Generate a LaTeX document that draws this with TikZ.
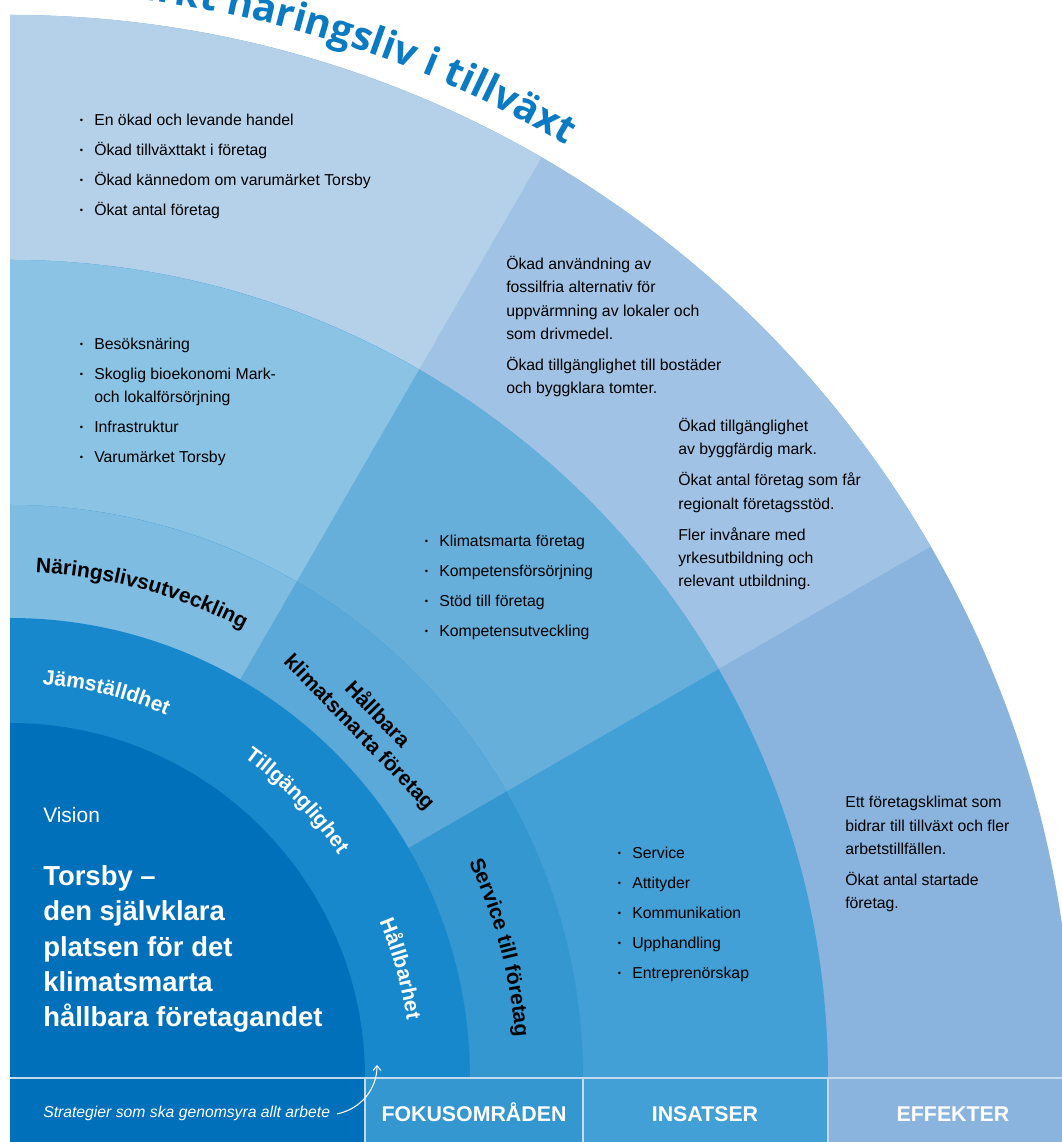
\documentclass[tikz,border=0pt]{standalone}
\usepackage{fontspec}
\setmainfont{Liberation Sans}
\newfontfamily\titlefont{Open Sans}
\usetikzlibrary{decorations.text,arrows.meta}

\definecolor{visionblue}{HTML}{0070BA}
\definecolor{stratblue}{HTML}{1888CC}
\definecolor{fokusA}{HTML}{7EBCE2}
\definecolor{fokusB}{HTML}{5BA9D9}
\definecolor{fokusC}{HTML}{3597D0}
\definecolor{insatsA}{HTML}{8AC3E3}
\definecolor{insatsB}{HTML}{67AFDB}
\definecolor{insatsC}{HTML}{43A0D6}
\definecolor{effektA}{HTML}{B5D1EA}
\definecolor{effektB}{HTML}{A0C3E5}
\definecolor{effektC}{HTML}{8AB4DE}
\definecolor{titleblue}{HTML}{0A7AC3}
\definecolor{sepcol}{HTML}{C6DAEF}

\newcommand{\itm}{\llap{\raisebox{0.25ex}{\fontsize{7}{7}\selectfont •}\hspace{8.3pt}}}
\newcommand{\labfont}{\fontsize{15.75}{18}\selectfont\bfseries}

\tikzstyle{listtxt}=[anchor=base west,align=left,inner sep=0pt,font=\fontsize{11.85}{17.6}\selectfont]
\tikzstyle{bandlabel}=[anchor=base,inner sep=0pt,text=white,font=\fontsize{16}{19}\selectfont\bfseries]
\tikzstyle{ringtext}=[decorate,decoration={text along path,text align=center}]
\tikzstyle{sepline}=[draw=sepcol,line width=1.5pt]

\begin{document}
\begin{tikzpicture}[x=0.75pt,y=0.75pt]
\useasboundingbox (-10,-64) rectangle (1052,1078);
\clip (-10,-64) rectangle (1052,1078);

\fill[effektC] (0,0) -- (0:1063) arc[start angle=0,end angle=90,radius=1063] -- cycle;
\fill[effektB] (0,0) -- (30:1063) arc[start angle=30,end angle=90,radius=1063] -- cycle;
\fill[effektA] (0,0) -- (60:1063) arc[start angle=60,end angle=90,radius=1063] -- cycle;
\fill[insatsC] (0,0) -- (0:818) arc[start angle=0,end angle=90,radius=818] -- cycle;
\fill[insatsB] (0,0) -- (30:818) arc[start angle=30,end angle=90,radius=818] -- cycle;
\fill[insatsA] (0,0) -- (60:818) arc[start angle=60,end angle=90,radius=818] -- cycle;
\fill[fokusC] (0,0) -- (0:573) arc[start angle=0,end angle=90,radius=573] -- cycle;
\fill[fokusB] (0,0) -- (30:573) arc[start angle=30,end angle=90,radius=573] -- cycle;
\fill[fokusA] (0,0) -- (60:573) arc[start angle=60,end angle=90,radius=573] -- cycle;
\fill[stratblue] (0,0) -- (0:460) arc[start angle=0,end angle=90,radius=460] -- cycle;
\fill[visionblue] (0,0) -- (0:355) arc[start angle=0,end angle=90,radius=355] -- cycle;

\fill[visionblue] (0,0) rectangle (355,-64);
\fill[fokusC] (355,0) rectangle (573,-64);
\fill[insatsC] (573,0) rectangle (818,-64);
\fill[effektC] (818,0) rectangle (1052,-64);
\draw[sepline] (0,0) -- (1052,0);
\draw[sepline] (355,0) -- (355,-64);
\draw[sepline] (573,0) -- (573,-64);
\draw[sepline] (818,0) -- (818,-64);

\path[decorate,decoration={text along path,text align=right,text color=titleblue,
  text={|\titlefont\bfseries\fontsize{29.7}{32}\selectfont|Ett starkt näringsliv i tillväxt}}]
  (110:1086) arc[start angle=110,end angle=59.2,radius=1086];

\node (effekta) at (84,862) [listtxt] {\itm En ökad och levande handel\\[4.9pt]\itm Ökad tillväxttakt i företag\\[4.9pt]\itm Ökad kännedom om varumärket Torsby\\[4.9pt]\itm Ökat antal företag};
\node (effektb) at (496,684) [listtxt] {Ökad användning av\\fossilfria alternativ för\\uppvärmning av lokaler och\\som drivmedel.\\[5.6pt]Ökad tillgänglighet till bostäder\\och byggklara tomter.};
\node (effektbb) at (668,491) [listtxt] {Ökad tillgänglighet\\av byggfärdig mark.\\[5.6pt]Ökat antal företag som får\\regionalt företagsstöd.\\[5.6pt]Fler invånare med\\yrkesutbildning och\\relevant utbildning.};
\node (effektc) at (835,169) [listtxt] {Ett företagsklimat som\\bidrar till tillväxt och fler\\arbetstillfällen.\\[5.6pt]Ökat antal startade\\företag.};

\node (insatsa) at (84,615) [listtxt] {\itm Besöksnäring\\[4.9pt]\itm Skoglig bioekonomi Mark-\\och lokalförsörjning\\[4.9pt]\itm Infrastruktur\\[4.9pt]\itm Varumärket Torsby};
\node (insatsb) at (429,441) [listtxt] {\itm Klimatsmarta företag\\[4.9pt]\itm Kompetensförsörjning\\[4.9pt]\itm Stöd till företag\\[4.9pt]\itm Kompetensutveckling};
\node (insatsc) at (622,99) [listtxt] {\itm Service\\[4.9pt]\itm Attityder\\[4.9pt]\itm Kommunikation\\[4.9pt]\itm Upphandling\\[4.9pt]\itm Entreprenörskap};

\path[ringtext,decoration={text color=black,text={|\labfont|Näringslivsutveckling}}] (94.8:506) arc[start angle=94.8,end angle=54.8,radius=506];
\node (fokusb) at (44.7:504) [rotate=-46,align=center,inner sep=0pt,font=\fontsize{15.75}{18.75}\selectfont\bfseries] {Hållbara\\klimatsmarta företag};
\path[ringtext,decoration={text color=black,text={|\labfont|Service till företag}}] (34.9:507) arc[start angle=34.9,end angle=-5.1,radius=507];

\path[ringtext,decoration={text color=white,text={|\labfont|Jämställdhet}}] (96:395) arc[start angle=96,end angle=56,radius=395];
\path[ringtext,decoration={text color=white,text={|\labfont|Tillgänglighet}}] (64:397) arc[start angle=64,end angle=24,radius=397];
\path[ringtext,decoration={text color=white,text={|\labfont|Hållbarhet}}] (35.6:401) arc[start angle=35.6,end angle=-4.4,radius=401];

\node (vision) at (33,255) [anchor=base west,inner sep=0pt,text=white,font=\fontsize{15.7}{18}\selectfont] {Vision};
\node (visiontxt) at (33,51) [anchor=base west,align=left,inner sep=0pt,text=white,font=\fontsize{20.6}{26.6}\selectfont\bfseries] {Torsby –\\den självklara\\platsen för det\\klimatsmarta\\hållbara företagandet};

\node (strat) at (33,-40) [anchor=base west,inner sep=0pt,text=white,font=\fontsize{11.8}{14}\selectfont\itshape] {Strategier som ska genomsyra allt arbete};
\coordinate (stratring) at (367,13);
\draw[white,line width=0.8pt,-{Straight Barb[length=3.5pt,width=6pt]}] ([xshift=5pt]strat.east) .. controls +(24,5) and +(0,-24) .. (stratring);

\node (fokus) at (464,-43) [bandlabel] {FOKUSOMRÅDEN};
\node (insatser) at (695,-43) [bandlabel] {INSATSER};
\node (effekter) at (943,-43) [bandlabel] {EFFEKTER};

\end{tikzpicture}
\end{document}
